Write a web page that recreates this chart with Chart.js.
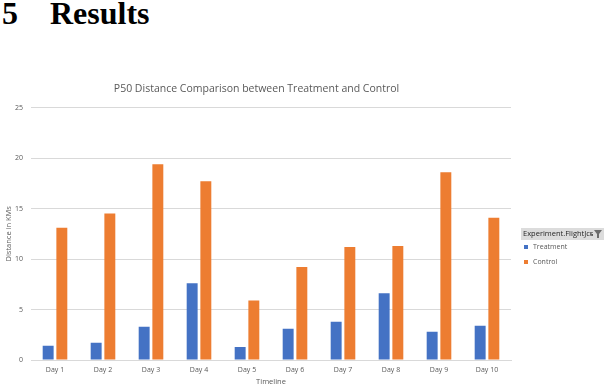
<!DOCTYPE html>
<html>
<head>
<meta charset="utf-8">
<script src="https://cdn.jsdelivr.net/npm/chart.js@4/dist/chart.umd.min.js"></script>
<style>
    body { margin: 0; background: #fff; }
    #page { position: relative; width: 604px; height: 386px; overflow: hidden; }
    #heading {
        position: absolute; left: 2px; top: -5px;
        font-family: "Liberation Serif", serif; font-weight: bold; font-size: 32px;
        color: #000; white-space: nowrap;
    }
    #heading .num { display: inline-block; width: 48px; }
    #wrap { position: absolute; left: 0; top: 0; width: 604px; height: 386px; }
</style>
</head>
<body>
<div id="page">
    <div id="heading"><span class="num">5</span>Results</div>
    <div id="wrap"><canvas id="chart"></canvas></div>
</div>
<script>
const days = ["Day 1", "Day 2", "Day 3", "Day 4", "Day 5", "Day 6", "Day 7", "Day 8", "Day 9", "Day 10"];
const treatment = [1.4, 1.7, 3.3, 7.6, 1.3, 3.1, 3.8, 6.6, 2.8, 3.4];
const control = [13.1, 14.5, 19.4, 17.7, 5.9, 9.2, 11.2, 11.3, 18.6, 14.1];
const yTicks = [0, 5, 10, 15, 20, 25];
const legendTitle = "Experiment.FlightJcs";

const font = "'Open Sans', 'Noto Sans', sans-serif";

// legend drawn by hand in the right margin: grey header with funnel, then the series
const sideLegend = {
    id: "sideLegend",
    afterDraw(chart) {
        const ctx = chart.ctx;
        const x0 = 521;
        ctx.save();
        ctx.fillStyle = "#dcdcdc";
        ctx.fillRect(x0, 228, chart.width - x0, 12);
        ctx.fillStyle = "#262626";
        ctx.font = "7.5px " + font;
        ctx.textBaseline = "middle";
        ctx.fillText(legendTitle, x0 + 2, 234);
        // funnel icon
        ctx.fillStyle = "#6b6b6b";
        ctx.fillRect(590, 234, 2, 1);
        const fx = 594, fy = 230;
        ctx.beginPath();
        ctx.moveTo(fx, fy);
        ctx.lineTo(fx + 8, fy);
        ctx.lineTo(fx + 5, fy + 4);
        ctx.lineTo(fx + 5, fy + 8);
        ctx.lineTo(fx + 3, fy + 8);
        ctx.lineTo(fx + 3, fy + 4);
        ctx.closePath();
        ctx.fill();

        ctx.font = "7px " + font;
        chart.data.datasets.forEach((ds, i) => {
            const y = 247 + i * 15;
            ctx.fillStyle = ds.backgroundColor;
            ctx.fillRect(524, y - 2, 4, 4);
            ctx.fillStyle = "#595959";
            ctx.fillText(ds.label, 533, y);
        });
        ctx.restore();
    }
};

new Chart(document.getElementById("chart"), {
    type: "bar",
    data: {
        labels: days,
        datasets: [
            { label: "Treatment", data: treatment, backgroundColor: "#4472C4" },
            { label: "Control", data: control, backgroundColor: "#ED7D31" }
        ]
    },
    options: {
        responsive: true,
        maintainAspectRatio: false,
        animation: false,
        categoryPercentage: 0.57,
        barPercentage: 0.8,
        layout: { padding: { top: 83, left: 2, right: 93, bottom: 0 } },
        plugins: {
            title: {
                display: true,
                text: "P50 Distance Comparison between Treatment and Control",
                color: "#595959",
                font: { family: font, size: 10.5, weight: "normal" },
                padding: { top: 0, bottom: 12 }
            },
            legend: { display: false },
            tooltip: { enabled: false }
        },
        scales: {
            x: {
                afterFit(axis) {
                    axis.height = 26;
                },
                grid: { display: false, drawTicks: false },
                border: { display: true, color: "#d9d9d9" },
                ticks: { color: "#595959", font: { family: font, size: 7 }, padding: 6, maxRotation: 0 },
                title: {
                    display: true, text: "Timeline", color: "#595959",
                    font: { family: font, size: 7.5 }, padding: { top: 2, bottom: 0 }
                }
            },
            y: {
                min: 0,
                max: 25,
                afterBuildTicks(axis) {
                    axis.ticks = yTicks.map(v => ({ value: v }));
                },
                afterFit(axis) {
                    axis.width = 29;
                },
                grid: { color: "#d9d9d9", drawTicks: false },
                border: { display: false },
                ticks: { color: "#595959", font: { family: font, size: 7 }, padding: 8 },
                title: {
                    display: true, text: "Distance in KMs", color: "#595959",
                    font: { family: font, size: 7.5 }, padding: { top: 2.5, bottom: 0 }
                }
            }
        }
    },
    plugins: [sideLegend]
});
</script>
</body>
</html>
